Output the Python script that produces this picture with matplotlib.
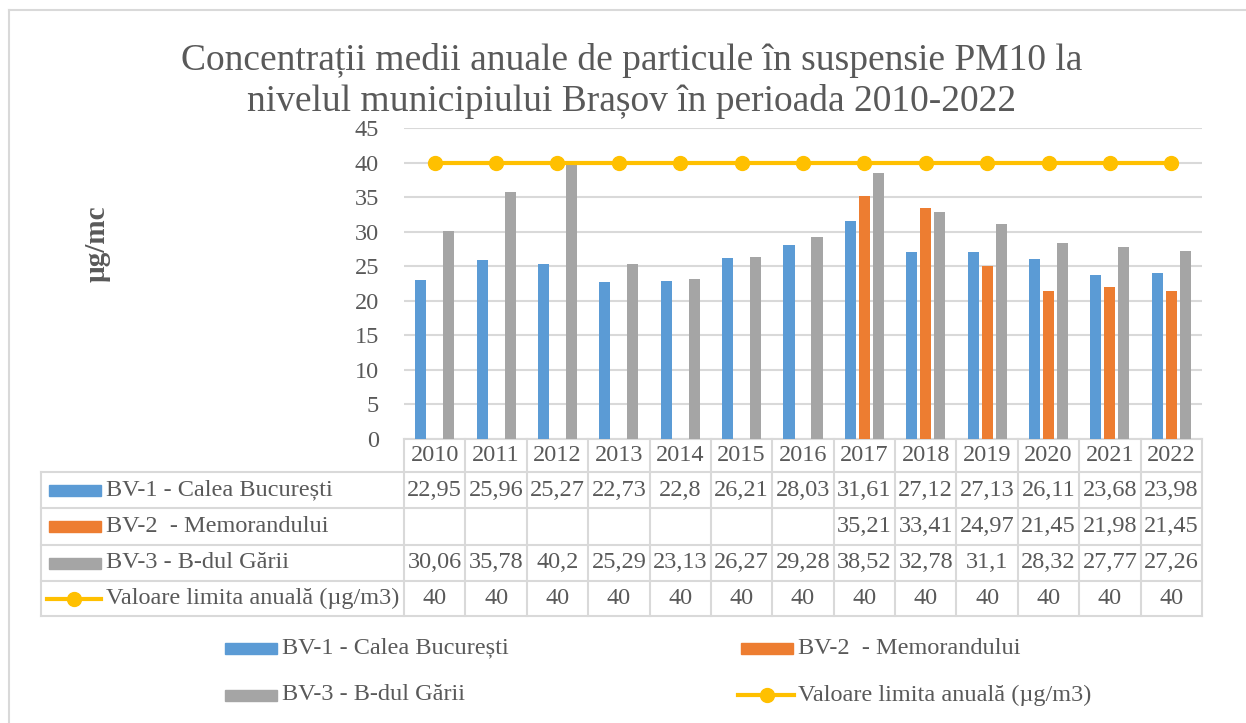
import matplotlib
matplotlib.use("Agg")
import matplotlib.pyplot as plt
from matplotlib.patches import Rectangle
import numpy as np

plt.rcParams['font.family'] = ['Liberation Serif', 'DejaVu Serif']

# data
years = ['2010', '2011', '2012', '2013', '2014', '2015', '2016',
         '2017', '2018', '2019', '2020', '2021', '2022']
bv1 = [22.95, 25.96, 25.27, 22.73, 22.8, 26.21, 28.03, 31.61, 27.12, 27.13, 26.11, 23.68, 23.98]
bv2 = [None, None, None, None, None, None, None, 35.21, 33.41, 24.97, 21.45, 21.98, 21.45]
bv3 = [30.06, 35.78, 40.2, 25.29, 23.13, 26.27, 29.28, 38.52, 32.78, 31.1, 28.32, 27.77, 27.26]
limita = [40] * 13

names = ['BV-1 - Calea București', 'BV-2  - Memorandului',
         'BV-3 - B-dul Gării', 'Valoare limita anuală (µg/m3)']
colors = ['#5B9BD5', '#ED7D31', '#A5A5A5', '#FFC000']
txt = '#595959'
grid = '#D9D9D9'
fs = 17.5

W, H = 1246, 723
fig = plt.figure(figsize=(W / 100, H / 100), dpi=100)

# overlay in pixel coords for table, legend, frame
ov = fig.add_axes([0, 0, 1, 1])
ov.set_xlim(0, W)
ov.set_ylim(H, 0)
ov.axis('off')

# plot area
px_l, px_r, px_t, px_b = 404, 1202, 128, 439
ax = fig.add_axes([px_l / W, 1 - px_b / H, (px_r - px_l) / W, (px_b - px_t) / H])
ax.patch.set_alpha(0)

x = np.arange(len(years))
bw = 0.18
off = 0.228
ax.bar(x - off, bv1, bw, color=colors[0], zorder=2)
ax.bar(x, [np.nan if v is None else v for v in bv2], bw, color=colors[1], zorder=2)
ax.bar(x + off, bv3, bw, color=colors[2], zorder=2)
ax.plot(x, limita, color=colors[3], lw=3, marker='o', markersize=10, zorder=3)

ax.set_xlim(-0.5, len(years) - 0.5)
ax.set_ylim(0, 45)
ax.set_yticks(range(0, 46, 5))
ax.yaxis.grid(True, color=grid, lw=1.5, zorder=0)
ax.set_xticks([])
for s in ax.spines.values():
    s.set_visible(False)
ax.tick_params(axis='y', length=0, pad=18, labelsize=fs, labelcolor=txt)

# title and y label
ov.text(632, 81, 'Concentrații medii anuale de particule în suspensie PM10 la\n'
        'nivelul municipiului Brașov în perioada 2010-2022',
        ha='center', va='center', fontsize=27, color=txt, linespacing=1.25)
ov.text(97, 244, 'µg/mc', rotation=90, ha='center', va='center',
        fontsize=21, fontweight='bold', color=txt)

# outer frame (left and top edges visible)
ov.plot([9, 9], [10, H], color=grid, lw=1.5)
ov.plot([9, W], [10, 10], color=grid, lw=1.5)

# data table
tl = 41
cw = (px_r - px_l) / len(years)
rows_y = [439, 472, 508, 545, 581, 616]
ov.plot([px_l, px_r], [rows_y[0], rows_y[0]], color=grid, lw=1.5)
for yy in rows_y[1:]:
    ov.plot([tl, px_r], [yy, yy], color=grid, lw=1.5)
ov.plot([tl, tl], [rows_y[1], rows_y[-1]], color=grid, lw=1.5)
for k in range(len(years) + 1):
    ov.plot([px_l + k * cw] * 2, [rows_y[0], rows_y[-1]], color=grid, lw=1.5)

for k, yr in enumerate(years):
    ov.text(px_l + (k + 0.5) * cw, (rows_y[0] + rows_y[1]) / 2, yr,
            ha='center', va='center', fontsize=fs, color=txt)

series = [bv1, bv2, bv3, limita]
for r, (name, vals, col) in enumerate(zip(names, series, colors)):
    yc = (rows_y[r + 1] + rows_y[r + 2]) / 2
    if r < 3:
        ov.add_patch(Rectangle((49, yc - 5.5), 52, 11, color=col))
    else:
        ov.plot([47, 101], [yc, yc], color=col, lw=3)
        ov.plot([74], [yc], 'o', color=col, markersize=10)
    ov.text(106, yc, name, ha='left', va='center', fontsize=fs, color=txt)
    for k, v in enumerate(vals):
        if v is None:
            continue
        s = f'{v:g}'.replace('.', ',')
        ov.text(px_l + (k + 0.5) * cw, yc, s, ha='center', va='center',
                fontsize=fs, color=txt)

# legend below
leg_pos = [(225, 648), (741, 648), (225, 695), (741, 695)]
for (lx, ly), name, col, i in zip(leg_pos, names, colors, range(4)):
    if i < 3:
        ov.add_patch(Rectangle((lx, ly - 5.5), 52, 11, color=col))
    else:
        ov.plot([lx - 3, lx + 53], [ly, ly], color=col, lw=3)
        ov.plot([lx + 26], [ly], 'o', color=col, markersize=10)
    ov.text(lx + 57, ly, name, ha='left', va='center', fontsize=fs, color=txt)

fig.savefig('out.png', dpi=100)
